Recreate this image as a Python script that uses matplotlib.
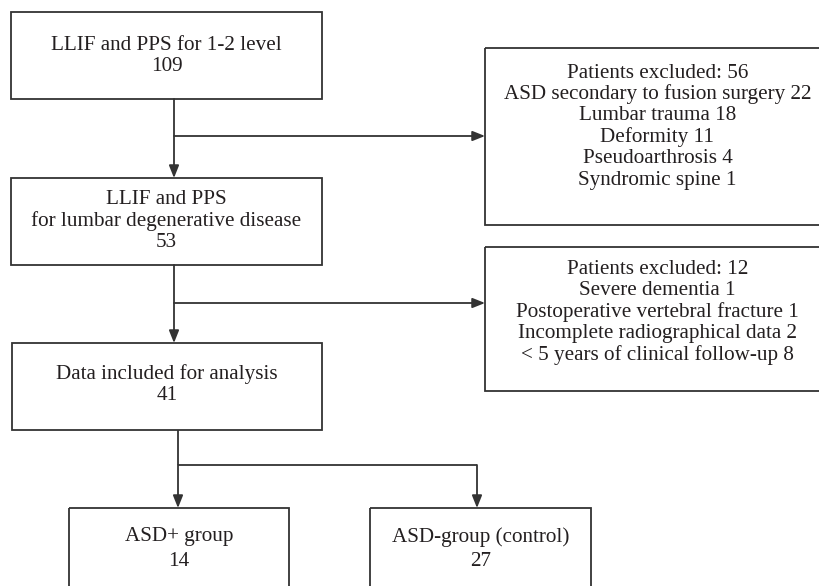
import matplotlib.pyplot as plt
from matplotlib.patches import Rectangle

# box texts (one string per line)
main_boxes = [
    ["LLIF and PPS for 1-2 level", "109"],
    ["LLIF and PPS", "for lumbar degenerative disease", "53"],
    ["Data included for analysis", "41"],
]
excluded_boxes = [
    ["Patients excluded: 56", "ASD secondary to fusion surgery 22", "Lumbar trauma 18",
     "Deformity 11", "Pseudoarthrosis 4", "Syndromic spine 1"],
    ["Patients excluded: 12", "Severe dementia 1", "Postoperative vertebral fracture 1",
     "Incomplete radiographical data 2", "< 5 years of clinical follow-up 8"],
]
group_boxes = [
    ["ASD+ group", "14"],
    ["ASD-group (control)", "27"],
]

# layout in pixels: (left, top, right, bottom, first text line y)
main_geo = [(11, 12, 322, 99, 45), (11, 178, 322, 265, 200), (12, 343, 322, 430, 374)]
excl_geo = [(485, 48, 830, 225, 73), (485, 247, 830, 391, 269)]
group_geo = [(69, 508, 289, 600, 537), (370, 508, 591, 600, 537)]
line_h = 21.4

lc = "#333333"
lw = 1.3
font = dict(family=["Liberation Serif", "DejaVu Serif"], fontsize=15.2, color="#231f20")

fig = plt.figure(figsize=(8.19, 5.86), dpi=100)
ax = fig.add_axes([0, 0, 1, 1])
ax.set_xlim(0, 819)
ax.set_ylim(586, 0)
ax.axis("off")


def draw_box(geo, lines, lh=line_h):
    x0, y0, x1, y1, ty = geo
    ax.add_patch(Rectangle((x0, y0), x1 - x0, y1 - y0, fill=False, edgecolor=lc, lw=lw))
    cx = (x0 + x1) / 2
    for i, t in enumerate(lines):
        ax.text(cx, ty + i * lh, t, ha="center", va="center", **font)


def line(xs, ys):
    ax.plot(xs, ys, color=lc, lw=lw, solid_capstyle="butt")


def arrow(x0, y0, x1, y1):
    ax.annotate("", xy=(x1, y1), xytext=(x0, y0),
                arrowprops=dict(arrowstyle="-|>,head_length=0.75,head_width=0.3",
                                color=lc, lw=lw, shrinkA=0, shrinkB=0))


for g, t in zip(main_geo, main_boxes):
    draw_box(g, t)
for g, t in zip(excl_geo, excluded_boxes):
    draw_box(g, t)
for g, t in zip(group_geo, group_boxes):
    draw_box(g, t, lh=24)

# connectors
arrow(174, 99, 174, 178)
arrow(174, 136, 485, 136)
arrow(174, 265, 174, 343)
arrow(174, 303, 485, 303)
line([178, 178], [430, 465])
line([178, 477], [465, 465])
arrow(178, 465, 178, 508)
arrow(477, 465, 477, 508)

fig.savefig("out.png", dpi=100)
